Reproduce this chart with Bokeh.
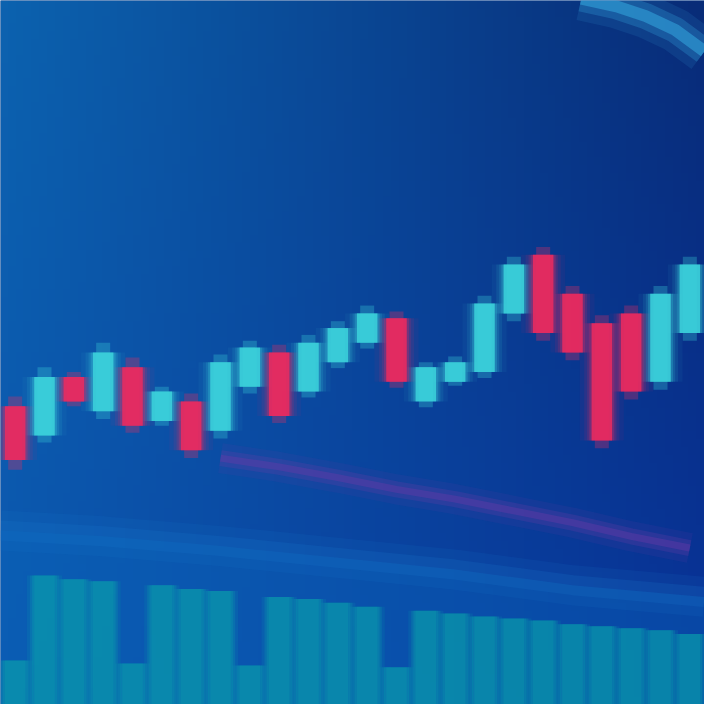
import numpy as np
from bokeh.plotting import figure
from bokeh.embed import file_html
from bokeh.resources import INLINE
from bokeh.models import ColumnDataSource, Range1d

# ---- data (price units, higher = up) ----
idx    = list(range(24))
open_  = [305, 275, 335, 300, 345, 290, 310, 280, 325, 360, 320, 350, 370, 395, 310, 330, 340, 400, 460, 420, 390, 400, 330, 380]
close  = [250, 335, 310, 360, 285, 320, 260, 350, 365, 295, 370, 385, 400, 330, 345, 350, 410, 450, 380, 360, 270, 320, 420, 450]
high   = [315, 345, 340, 370, 355, 325, 318, 358, 372, 368, 378, 392, 408, 402, 350, 356, 418, 458, 468, 428, 398, 408, 428, 458]
low    = [240, 268, 305, 292, 278, 285, 252, 272, 318, 288, 314, 344, 364, 324, 304, 326, 334, 392, 372, 352, 262, 312, 322, 372]
volume = [45, 132, 128, 126, 42, 122, 118, 116, 40, 110, 108, 104, 100, 38, 96, 93, 90, 88, 86, 82, 80, 78, 76, 72]
ma_idx = [7, 9, 11, 13, 15, 17, 19, 21, 23]
ma     = [252, 243, 232, 220, 210, 198, 186, 172, 160]
band_idx = [-0.5, 3, 7, 11, 15, 19, 23.5]
band     = [178, 172, 162, 150, 138, 122, 110]

UP = "#3cd3dc"
DOWN = "#ee2a5e"

colors = [UP if c >= o else DOWN for o, c in zip(open_, close)]
top = [max(o, c) for o, c in zip(open_, close)]
bot = [min(o, c) for o, c in zip(open_, close)]
src = ColumnDataSource(dict(x=idx, top=top, bot=bot, high=high, low=low, color=colors, vol=volume))

p = figure(width=704, height=704, output_backend="svg", toolbar_location=None,
           x_range=Range1d(-0.5, 23.5), y_range=Range1d(0, 720),
           min_border=0, background_fill_color="#083f8c", border_fill_color="#083f8c")
p.axis.visible = False
p.grid.visible = False
p.outline_line_color = None

# background gradient
H, W = 90, 90
yy, xx = np.mgrid[0:H, 0:W] / (H - 1)
r = 8 + 4 * (1 - xx)
g = 66 + 20 * (1 - xx) - 14 * xx * (1 - yy) + 12 * yy * (1 - xx) - 22 * xx * yy
b = 155 + 20 * (1 - xx) - 35 * xx * yy
img = np.zeros((H, W), dtype=np.uint32)
view = img.view(dtype=np.uint8).reshape((H, W, 4))
view[..., 0] = np.clip(r, 0, 255)
view[..., 1] = np.clip(g, 0, 255)
view[..., 2] = np.clip(b, 0, 255)
view[..., 3] = 255
p.image_rgba(image=[img], x=-0.5, y=0, dw=24, dh=720)

# lighter lower band
p.varea(x=band_idx, y1=[0] * len(band), y2=band, fill_color="#0b66bc", fill_alpha=0.4)
for lw, a in [(40, 0.12), (20, 0.2)]:
    p.line(x=band_idx, y=band, line_color="#1a78cc", line_width=lw, line_alpha=a)

# volume bars with glow
for w, a in [(1.2, 0.15), (1.0, 0.25), (0.85, 0.3), (0.7, 0.3)]:
    p.vbar(x="x", top="vol", bottom=0, width=w, source=src, fill_color="#0aa0ac",
           fill_alpha=a, line_color=None)

# moving average (purple)
for lw, a in [(30, 0.12), (16, 0.25), (7, 0.4)]:
    p.line(x=ma_idx, y=ma, line_color="#6a3aa8", line_width=lw, line_alpha=a)

# candle glow layers
for w, a in [(1.5, 0.06), (1.2, 0.1), (1.0, 0.15), (0.85, 0.25)]:
    p.vbar(x="x", top="top", bottom="bot", width=w, source=src, fill_color="color",
           fill_alpha=a, line_color=None)
p.segment(x0="x", y0="low", x1="x", y1="high", source=src, line_color="color",
          line_width=14, line_alpha=0.3)
p.vbar(x="x", top="top", bottom="bot", width=0.7, source=src, fill_color="color",
       fill_alpha=0.85, line_color=None)

# top-right arc decoration
arc_x = [19.3, 20.5, 21.5, 22.5, 23.5]
arc_y = [722, 714, 704, 690, 668]
for lw, a in [(44, 0.12), (26, 0.25), (12, 0.5)]:
    p.line(x=arc_x, y=arc_y, line_color="#36b0e6", line_width=lw, line_alpha=a)

open("out.html", "w").write(file_html(p, INLINE))
